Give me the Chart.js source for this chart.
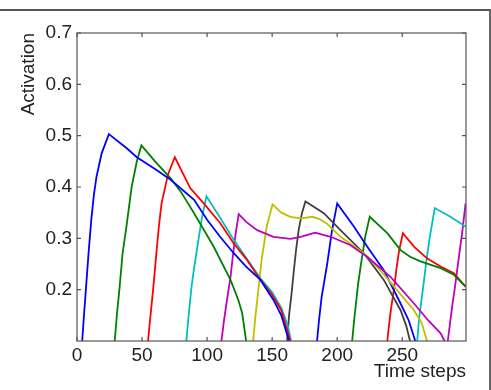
<!DOCTYPE html>
<html>
<head>
<meta charset="utf-8">
<script src="https://cdn.jsdelivr.net/npm/chart.js@4"></script>
<style>
  html, body { margin: 0; padding: 0; background: #fff; }
  #wrap { position: relative; width: 491px; height: 390px; overflow: hidden; }
  #frame { position: absolute; left: -4px; top: 9px; width: 495px; height: 400px;
           border-top: 2px solid #555; border-right: 2px solid #666; box-sizing: border-box; }
  #activationChart { position: absolute; left: 0; top: 0; }
</style>
</head>
<body>
<div id="wrap">
  <div id="frame"></div>
  <canvas id="activationChart" width="491" height="390"></canvas>
</div>
<script>
// curves, as [time step, activation]
const blue1 = [[4, 0.1], [5.5, 0.155], [7, 0.206], [9, 0.275], [11, 0.336], [13, 0.385], [15, 0.42],
    [19, 0.466], [24.5, 0.503],
    [38, 0.476], [46, 0.458], [60, 0.435], [72, 0.414], [90, 0.375], [100, 0.336],
    [110, 0.303], [120.5, 0.271], [130, 0.245], [141, 0.219], [151, 0.18], [157, 0.15], [163, 0.1]];
const green1 = [[29, 0.1], [30.8, 0.155], [32.8, 0.206], [35, 0.27], [38, 0.323], [42, 0.4],
    [46, 0.45], [49.5, 0.481],
    [60, 0.45], [72, 0.417], [80, 0.39], [90, 0.349], [105, 0.284], [118, 0.219],
    [124, 0.18], [127, 0.154], [130, 0.1]];
const red1 = [[54.6, 0.1], [56.5, 0.15], [58.5, 0.2], [61, 0.271], [63, 0.325], [65, 0.368],
    [70, 0.425], [75.2, 0.458],
    [87, 0.398], [97.4, 0.368], [110, 0.33], [120.5, 0.29], [130, 0.26], [141, 0.219],
    [150, 0.19], [157, 0.16], [164, 0.1]];
const cyan1 = [[84, 0.1], [86, 0.155], [88, 0.205], [90, 0.242], [92, 0.275], [96, 0.34], [99.5, 0.382],
    [110, 0.34], [120.5, 0.297], [130, 0.262], [141, 0.222], [150, 0.195], [157, 0.165],
    [162, 0.13], [164.5, 0.1]];
const magenta1 = [[111, 0.1], [113, 0.14], [115, 0.175], [118, 0.225], [120, 0.27], [122, 0.31],
    [124.3, 0.347],
    [130, 0.332], [138.5, 0.316], [151, 0.303], [164, 0.299], [172, 0.303], [183, 0.311],
    [195, 0.303], [210, 0.287], [223, 0.264], [241, 0.225], [259, 0.173], [270, 0.14],
    [279.5, 0.115], [282.5, 0.1]];
const yellow1 = [[135.4, 0.1], [137, 0.145], [139, 0.19], [142, 0.26], [146, 0.325], [150.3, 0.366],
    [157, 0.35], [164, 0.342], [172, 0.339], [181, 0.342], [186, 0.338], [192, 0.329],
    [202.5, 0.303], [220.5, 0.271], [233, 0.238], [246, 0.199], [259, 0.16], [265, 0.135], [269, 0.1]];
const black1 = [[161.5, 0.1], [163, 0.15], [164.8, 0.19], [166.6, 0.235], [168.5, 0.28],
    [170.5, 0.318], [173, 0.35], [175.6, 0.372],
    [189.7, 0.349], [202.5, 0.316], [220.5, 0.271], [235.8, 0.219], [248.7, 0.16], [253, 0.13], [256, 0.1]];
const blue2 = [[184.5, 0.1], [186, 0.14], [188, 0.185], [190, 0.215], [192.3, 0.25], [196, 0.315],
    [200, 0.368],
    [212.8, 0.323], [223, 0.284], [235.8, 0.238], [248.7, 0.173], [255, 0.14], [260, 0.1]];
const green2 = [[211.5, 0.1], [213, 0.14], [214.5, 0.175], [216, 0.21], [218, 0.245],
    [221.5, 0.303], [225, 0.342],
    [238.5, 0.31], [248.7, 0.277], [256, 0.264], [264, 0.255], [279.5, 0.242], [289.7, 0.229], [298.7, 0.206]];
const red2 = [[238.5, 0.1], [240, 0.135], [241.5, 0.165], [243.6, 0.2], [245.5, 0.24],
    [247.5, 0.275], [250.5, 0.31],
    [259, 0.284], [269, 0.261], [279.5, 0.245], [289.7, 0.232], [298.7, 0.206]];
const cyan2 = [[261.5, 0.1], [263, 0.145], [264.8, 0.18], [266.6, 0.215], [268.5, 0.255],
    [271, 0.3], [275, 0.359],
    [287, 0.342], [298.7, 0.323]];
const magenta2 = [[285, 0.1], [286.5, 0.13], [288.5, 0.17], [290.5, 0.205], [292.3, 0.24],
    [296, 0.31], [298.7, 0.368]];

const xTicks = [0, 50, 100, 150, 200, 250];
const yTicks = [0.2, 0.3, 0.4, 0.5, 0.6, 0.7];

const curves = [
    [blue1, '#0000ff'], [green1, '#008000'], [red1, '#ff0000'], [cyan1, '#00bfbf'],
    [magenta1, '#bf00bf'], [yellow1, '#bfbf00'], [black1, '#404040'],
    [blue2, '#0000ff'], [green2, '#008000'], [red2, '#ff0000'], [cyan2, '#00bfbf'],
    [magenta2, '#bf00bf']
];

// box round the plot with inward ticks on all four sides
const boxPlugin = {
    id: 'box',
    afterDraw(chart) {
        const ctx = chart.ctx;
        const a = chart.chartArea;
        const xs = chart.scales.x, ys = chart.scales.y;
        ctx.save();
        ctx.strokeStyle = '#555';
        ctx.lineWidth = 1.2;
        ctx.strokeRect(a.left, a.top, a.right - a.left, a.bottom - a.top);
        ctx.beginPath();
        xTicks.forEach(v => {
            const px = xs.getPixelForValue(v);
            ctx.moveTo(px, a.bottom); ctx.lineTo(px, a.bottom - 4);
            ctx.moveTo(px, a.top); ctx.lineTo(px, a.top + 4);
        });
        yTicks.forEach(v => {
            const py = ys.getPixelForValue(v);
            ctx.moveTo(a.left, py); ctx.lineTo(a.left + 4, py);
            ctx.moveTo(a.right, py); ctx.lineTo(a.right - 4, py);
        });
        ctx.stroke();
        ctx.restore();
    }
};

const font = { family: "'Liberation Sans', Arial, sans-serif", size: 19 };

new Chart(document.getElementById('activationChart'), {
    type: 'line',
    data: {
        datasets: curves.map(c => ({
            data: c[0].map(p => ({ x: p[0], y: p[1] })),
            borderColor: c[1],
            borderWidth: 1.8,
            pointRadius: 0,
            tension: 0,
            fill: false
        }))
    },
    options: {
        responsive: false,
        animation: false,
        layout: { padding: { left: 0, top: 33, right: 25, bottom: 0 } },
        plugins: { legend: { display: false }, tooltip: { enabled: false } },
        scales: {
            x: {
                type: 'linear',
                min: 0,
                max: 299,
                afterBuildTicks: scale => { scale.ticks = xTicks.map(v => ({ value: v })); },
                afterFit: scale => { scale.height = 49; },
                grid: { display: false, drawTicks: false },
                border: { display: false },
                ticks: { color: '#222', font: font, padding: 3, maxRotation: 0 },
                title: {
                    display: true, text: 'Time steps', align: 'end', color: '#222', font: font,
                    padding: { top: 0, bottom: 7 }
                }
            },
            y: {
                type: 'linear',
                min: 0.1,
                max: 0.7,
                afterBuildTicks: scale => { scale.ticks = yTicks.map(v => ({ value: v })); },
                afterFit: scale => { scale.width = 77; },
                grid: { display: false, drawTicks: false },
                border: { display: false },
                ticks: { color: '#222', font: font, padding: 5, callback: v => v.toFixed(1) },
                title: {
                    display: true, text: 'Activation', align: 'end', color: '#222', font: font,
                    padding: { top: 17, bottom: 0 }
                }
            }
        }
    },
    plugins: [boxPlugin]
});
</script>
</body>
</html>
